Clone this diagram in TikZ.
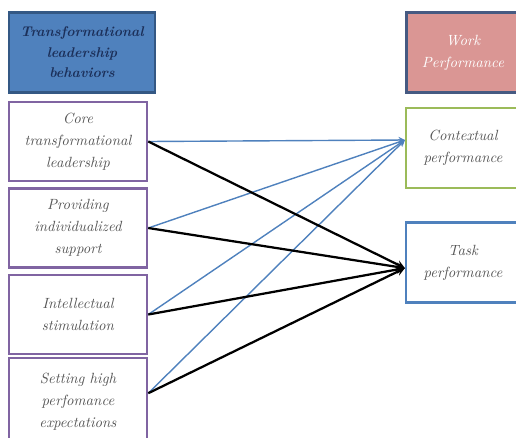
\documentclass[tikz,border=0pt]{standalone}
\usepackage{tikz}
\usepackage{xcolor}
\definecolor{headblue}{RGB}{79,129,189}
\definecolor{headborder}{RGB}{52,88,132}
\definecolor{headtext}{RGB}{28,48,90}
\definecolor{workpink}{RGB}{218,150,148}
\definecolor{workborder}{RGB}{70,90,130}
\definecolor{boxpurple}{RGB}{128,100,162}
\definecolor{boxgreen}{RGB}{155,187,89}
\definecolor{bodytext}{RGB}{85,85,85}

\begin{document}
\begin{tikzpicture}[x=0.025cm, y=-0.025cm]
    % Define styles
    \tikzstyle{header} = [rectangle, draw=headborder, line width=1.6pt, fill=headblue, text=headtext, align=center, font=\fontsize{10}{14.5}\selectfont\bfseries\itshape, minimum width=3.65cm, minimum height=2cm]
    \tikzstyle{workhead} = [rectangle, draw=workborder, line width=1.6pt, fill=workpink, text=white, align=center, font=\fontsize{10.5}{15.5}\selectfont\itshape, minimum width=2.83cm, minimum height=2cm]
    \tikzstyle{behavior} = [rectangle, draw=boxpurple, line width=1.8pt, fill=white, text=bodytext, align=center, font=\fontsize{10.5}{15.5}\selectfont\itshape, minimum width=3.45cm, minimum height=1.97cm]
    \tikzstyle{outcome} = [rectangle, line width=1.6pt, fill=white, text=bodytext, align=center, font=\fontsize{10.5}{15.5}\selectfont\itshape, minimum width=2.85cm, minimum height=2cm]
    \tikzstyle{bluearrow} = [draw=headblue, line width=1pt, ->, >=stealth]
    \tikzstyle{blackarrow} = [draw=black, line width=1.6pt, ->, >=stealth]

    \useasboundingbox (0,0) rectangle (516,437);

    % Nodes
    \node [header] (behaviors) at (82,52.5) {Transformational\\leadership\\behaviors};
    \node [workhead] (work) at (463,52.5) {Work\\Performance};
    \node [behavior] (core) at (78,141.5) {Core\\transformational\\leadership};
    \node [behavior] (support) at (78,228) {Providing\\individualized\\support};
    \node [behavior] (stimulation) at (78,314.5) {Intellectual\\stimulation};
    \node [behavior, minimum height=2.2cm] (expectations) at (78,402) {Setting high\\perfomance\\expectations};
    \node [outcome, draw=boxgreen] (contextual) at (463,148) {Contextual\\performance};
    \node [outcome, draw=headblue] (task) at (463,262.5) {Task\\performance};
    \coordinate (ctxin) at ([yshift=0.2cm]contextual.west);
    \coordinate (taskin) at ([yshift=-0.14cm]task.west);

    % Arrows
    \draw [bluearrow] (core.east) -- (ctxin);
    \draw [bluearrow] (support.east) -- (ctxin);
    \draw [bluearrow] (stimulation.east) -- (ctxin);
    \draw [bluearrow] ([yshift=0.22cm]expectations.east) -- (ctxin);
    \draw [blackarrow] (core.east) -- (taskin);
    \draw [blackarrow] (support.east) -- (taskin);
    \draw [blackarrow] (stimulation.east) -- (taskin);
    \draw [blackarrow] ([yshift=0.22cm]expectations.east) -- (taskin);
\end{tikzpicture}
\end{document}
